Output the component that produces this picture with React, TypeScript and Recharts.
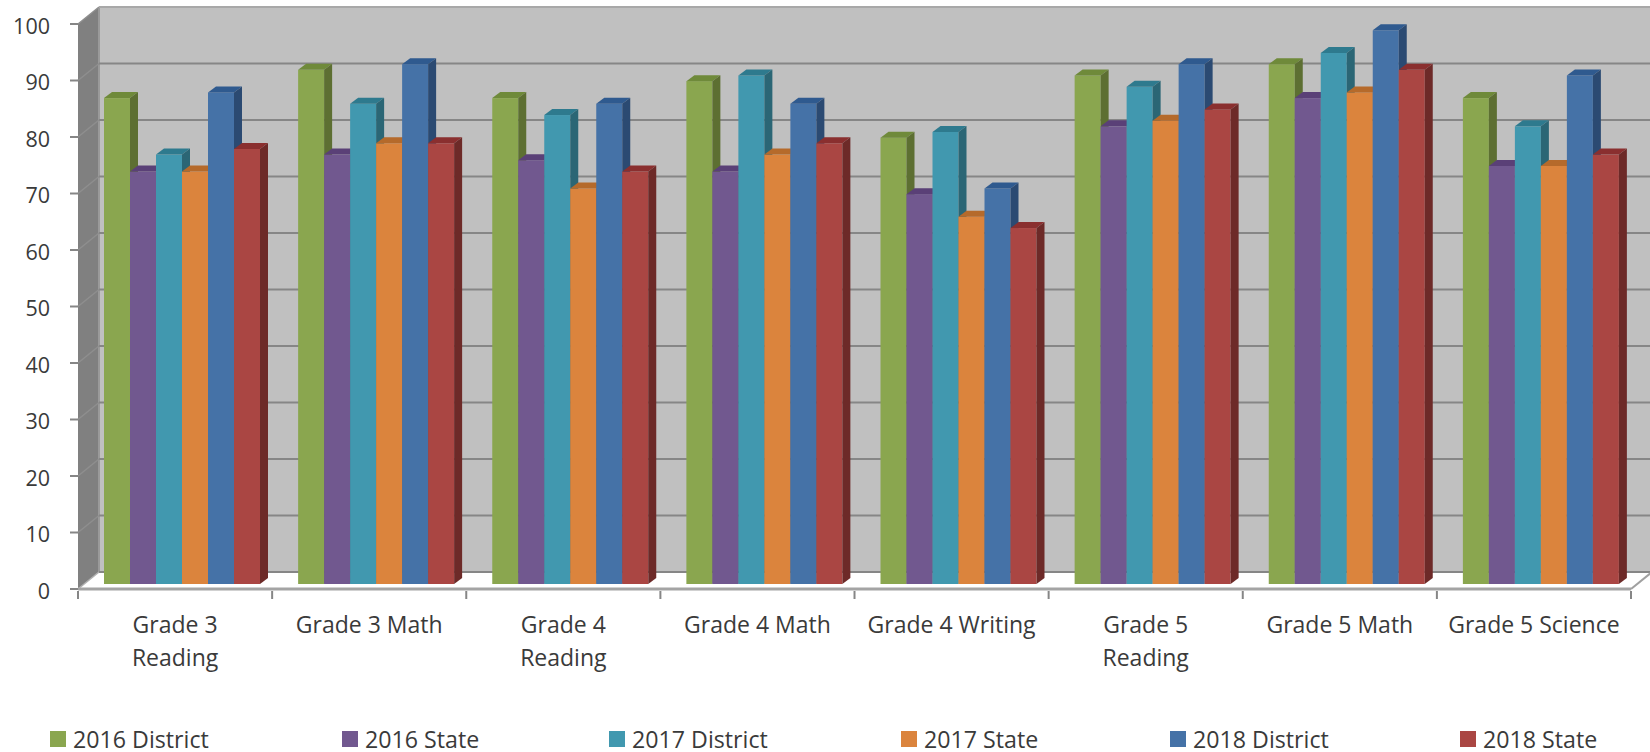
import { BarChart, Bar, XAxis, YAxis, CartesianGrid, Legend } from "recharts";

const categories = [
  "Grade 3 Reading",
  "Grade 3 Math",
  "Grade 4 Reading",
  "Grade 4 Math",
  "Grade 4 Writing",
  "Grade 5 Reading",
  "Grade 5 Math",
  "Grade 5 Science",
];

const district2016 = [86, 91, 86, 89, 79, 90, 92, 86];
const state2016 = [73, 76, 75, 73, 69, 81, 86, 74];
const district2017 = [76, 85, 83, 90, 80, 88, 94, 81];
const state2017 = [73, 78, 70, 76, 65, 82, 87, 74];
const district2018 = [87, 92, 85, 85, 70, 92, 98, 90];
const state2018 = [77, 78, 73, 78, 63, 84, 91, 76];

const yTicks = [0, 10, 20, 30, 40, 50, 60, 70, 80, 90, 100];

const data = categories.map((name, i) => ({
  name,
  district2016: district2016[i],
  state2016: state2016[i],
  district2017: district2017[i],
  state2017: state2017[i],
  district2018: district2018[i],
  state2018: state2018[i],
}));

const FONT = "'Open Sans', Lato, sans-serif";
const TEXT = "#3a3a3a";

// fake 3D: how far the walls and the bars are pushed back
const WALL_DX = 21;
const WALL_DY = 17;
const BAR_DX = 7;
const BAR_DY = 5;
const BAR_SIDE_X = 8;
const BAR_SIDE_Y = 6;
const BAND = 194.1;

// [top, side]
const SHADES: Record<string, [string, string]> = {
  "#8AA64F": ["#6F8A3A", "#5D6F32"],
  "#71588F": ["#5A4077", "#4C3A60"],
  "#4198AF": ["#2E7A8E", "#2B6675"],
  "#DB843D": ["#B56A2B", "#94592A"],
  "#4572A7": ["#2F5A8F", "#2B4A72"],
  "#AA4643": ["#8A2F2F", "#6D2A28"],
};

const Bar3D = (props: any) => {
  const { fill, width } = props;
  const x = props.x + BAR_DX;
  const y = props.y - BAR_DY;
  const h = props.height;
  const [top, side] = SHADES[fill];
  return (
    <g>
      <rect x={x} y={y} width={width} height={h} fill={fill} />
      <polygon
        points={`${x},${y} ${x + BAR_SIDE_X},${y - BAR_SIDE_Y} ${x + width + BAR_SIDE_X},${y - BAR_SIDE_Y} ${x + width},${y}`}
        fill={top}
      />
      <polygon
        points={`${x + width},${y} ${x + width + BAR_SIDE_X},${y - BAR_SIDE_Y} ${x + width + BAR_SIDE_X},${y + h - BAR_SIDE_Y} ${x + width},${y + h}`}
        fill={side}
      />
    </g>
  );
};

// Each gridline runs along the left wall and then the back wall.
// The walls go in with the first line so all lines end up on top of them.
const GridLine = (props: any) => {
  const { x1, x2, y1, index, x, y, width, height } = props;
  const isFloor = y1 >= y + height - 1;
  const isTop = y1 <= y + 1;
  return (
    <g>
      {index === 0 && (
        <g>
          <polygon
            points={`${x},${y} ${x + WALL_DX},${y - WALL_DY} ${x + WALL_DX},${y + height - WALL_DY} ${x},${y + height}`}
            fill="#808080"
          />
          <rect x={x + WALL_DX} y={y - WALL_DY} width={width} height={height} fill="#C0C0C0" />
          <polygon
            points={`${x},${y + height} ${x + WALL_DX},${y + height - WALL_DY} ${x + width + WALL_DX},${y + height - WALL_DY} ${x + width},${y + height}`}
            fill="#FFFFFF"
          />
          <line x1={x + WALL_DX} y1={y - WALL_DY} x2={x + WALL_DX} y2={y + height - WALL_DY} stroke="#9A9A9A" strokeWidth={2} />
        </g>
      )}
      <line
        x1={x1}
        y1={y1}
        x2={x1 + WALL_DX}
        y2={y1 - WALL_DY}
        stroke={isFloor ? "#B0B0B0" : "#8E8E8E"}
        strokeWidth={1.5}
      />
      <line
        x1={x1 + WALL_DX}
        y1={y1 - WALL_DY}
        x2={x2 + WALL_DX}
        y2={y1 - WALL_DY}
        stroke={isTop ? "#A8A8A8" : "#868686"}
        strokeWidth={2}
      />
      {isFloor && (
        <line x1={x2} y1={y1} x2={x2 + WALL_DX} y2={y1 - WALL_DY} stroke="#A0A0A0" strokeWidth={2} />
      )}
    </g>
  );
};

// Tick marks sit on the band edges, the labels in the middle of the band
const CategoryTick = (props: any) => {
  const { x, y, payload, index } = props;
  const lines = String(payload.value).split(/ (?=Reading)/);
  return (
    <g>
      <line x1={x - BAND / 2} y1={y - 8} x2={x - BAND / 2} y2={y} stroke="#868686" strokeWidth={2} />
      {index === categories.length - 1 && (
        <line x1={x + BAND / 2} y1={y - 8} x2={x + BAND / 2} y2={y} stroke="#868686" strokeWidth={2} />
      )}
      {lines.map((line, i) => (
        <text
          key={line}
          x={x}
          y={y + 34 + i * 33}
          textAnchor="middle"
          fontFamily={FONT}
          fontSize={23}
          fill={TEXT}
        >
          {line}
        </text>
      ))}
    </g>
  );
};

const LEGEND_X = [50, 342, 609, 901, 1170, 1460];

const LegendRow = ({ payload }: any) => (
  <div style={{ position: "relative", width: 1650, height: 30 }}>
    {(payload || []).map((item: any, i: number) => (
      <div
        key={item.value}
        style={{
          position: "absolute",
          left: LEGEND_X[i],
          top: 4,
          display: "flex",
          alignItems: "center",
          height: 26,
          lineHeight: "26px",
          fontFamily: FONT,
          fontSize: 23.2,
          color: TEXT,
          whiteSpace: "nowrap",
        }}
      >
        <span style={{ width: 16, height: 16, marginRight: 7, background: item.color }} />
        {item.value}
      </div>
    ))}
  </div>
);

export default function App() {
  return (
    <div style={{ position: "absolute", left: 0, top: 0, width: 1650, height: 752 }}>
      <BarChart
        width={1650}
        height={752}
        data={data}
        margin={{ top: 24, right: 19, left: 0, bottom: 0 }}
        barSize={26}
        barGap={0}
      >
        <CartesianGrid vertical={false} horizontal={GridLine} syncWithTicks fill="none" />
        <XAxis
          dataKey="name"
          height={133}
          interval={0}
          tickLine={false}
          tickSize={8}
          tick={CategoryTick}
          stroke="#A4A4A4"
          strokeWidth={3}
        />
        <YAxis
          width={78}
          domain={[0, 100]}
          ticks={yTicks}
          interval={0}
          tickSize={8}
          tickMargin={20}
          axisLine={false}
          tickLine={{ stroke: "#868686", strokeWidth: 2 }}
          tick={{ fill: TEXT, fontFamily: FONT, fontSize: 21.5, dy: 2 }}
        />
        <Legend
          verticalAlign="bottom"
          height={30}
          content={LegendRow}
          wrapperStyle={{ left: 0, bottom: 0, width: 1650 }}
        />
        <Bar dataKey="district2016" name="2016 District" fill="#8AA64F" shape={Bar3D} isAnimationActive={false} />
        <Bar dataKey="state2016" name="2016 State" fill="#71588F" shape={Bar3D} isAnimationActive={false} />
        <Bar dataKey="district2017" name="2017 District" fill="#4198AF" shape={Bar3D} isAnimationActive={false} />
        <Bar dataKey="state2017" name="2017 State" fill="#DB843D" shape={Bar3D} isAnimationActive={false} />
        <Bar dataKey="district2018" name="2018 District" fill="#4572A7" shape={Bar3D} isAnimationActive={false} />
        <Bar dataKey="state2018" name="2018 State" fill="#AA4643" shape={Bar3D} isAnimationActive={false} />
      </BarChart>
    </div>
  );
}
